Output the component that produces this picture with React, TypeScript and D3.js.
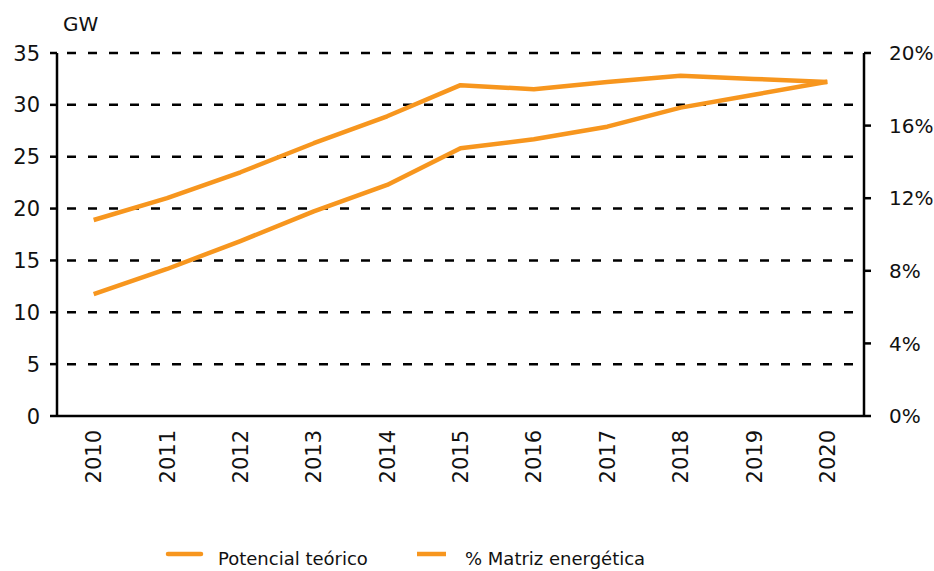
import React from "react";
import * as d3 from "d3";

const years = ["2010","2011","2012","2013","2014","2015","2016","2017","2018","2019","2020"];
const potencialGW = [18.9, 21.0, 23.5, 26.3, 28.9, 31.9, 31.5, 32.2, 32.8, 32.5, 32.2];
const matrizPct = [6.72, 8.1, 9.64, 11.27, 12.73, 14.75, 15.25, 15.94, 16.99, 17.7, 18.42];
const leftTicks = [0, 5, 10, 15, 20, 25, 30, 35];
const rightTicks = [0, 4, 8, 12, 16, 20];
const seriesNames = ["Potencial teórico", "% Matriz energética"];

const W = 934, H = 571;
const L = 57, R = 864, T = 53, B = 416;
const ORANGE = "#F7961E";
const FONT = "DejaVu Sans";

export default function App() {
  const x = d3.scalePoint<string>().domain(years).range([L, R]).padding(0.5);
  const yL = d3.scaleLinear().domain([0, 35]).range([B, T]);
  const yR = d3.scaleLinear().domain([0, 20]).range([B, T]);

  const lineL = d3.line<number>().x((_, i) => x(years[i])!).y((d) => yL(d));
  const lineR = d3.line<number>().x((_, i) => x(years[i])!).y((d) => yR(d));

  return (
    <svg width={W} height={H} style={{ position: "absolute", left: 0, top: 0, background: "#fff" }} fontFamily={FONT}>
      {/* gridlines */}
      {leftTicks.filter((t) => t > 0).map((t) => (
        <line key={"g" + t} x1={L} x2={R} y1={yL(t)} y2={yL(t)} stroke="#000" strokeWidth={2.5}
          strokeDasharray="9,12" strokeDashoffset={-10} />
      ))}
      {/* left ticks and labels */}
      {leftTicks.map((t) => (
        <g key={"l" + t}>
          <line x1={50} x2={L} y1={yL(t)} y2={yL(t)} stroke="#000" strokeWidth={2.5} />
          <text x={40} y={yL(t)} dy="0.36em" textAnchor="end" fontSize={21} fill="#111">{t}</text>
        </g>
      ))}
      {/* right ticks and labels */}
      {rightTicks.map((t) => (
        <g key={"r" + t}>
          <line x1={R} x2={871} y1={yR(t)} y2={yR(t)} stroke="#000" strokeWidth={2.5} />
          <text x={889} y={yR(t)} dy="0.36em" textAnchor="start" fontSize={20} fill="#111">{t + "%"}</text>
        </g>
      ))}
      {/* axes */}
      <line x1={L} x2={L} y1={T} y2={B + 1} stroke="#000" strokeWidth={2.5} />
      <line x1={R} x2={R} y1={T} y2={B + 1} stroke="#000" strokeWidth={2.5} />
      <line x1={L} x2={R} y1={B} y2={B} stroke="#000" strokeWidth={2.5} />
      <text x={63} y={31} fontSize={20} fill="#111">GW</text>
      {/* x labels */}
      {years.map((yr) => (
        <text key={yr} transform={`translate(${x(yr)},430) rotate(-90)`} dy="0.36em" textAnchor="end" fontSize={21} fill="#111">{yr}</text>
      ))}
      {/* lines */}
      <path d={lineR(matrizPct)!} fill="none" stroke={ORANGE} strokeWidth={4.5} strokeLinejoin="round" />
      <path d={lineL(potencialGW)!} fill="none" stroke={ORANGE} strokeWidth={4.5} strokeLinejoin="round" />
      {/* legend */}
      <line x1={168} x2={201} y1={554} y2={554} stroke={ORANGE} strokeWidth={4.5} strokeLinecap="round" />
      <text x={218} y={565} fontSize={18} fill="#111">{seriesNames[0]}</text>
      <line x1={417} x2={446} y1={554} y2={554} stroke={ORANGE} strokeWidth={4.5} />
      <text x={465} y={565} fontSize={18} fill="#111">{seriesNames[1]}</text>
    </svg>
  );
}
